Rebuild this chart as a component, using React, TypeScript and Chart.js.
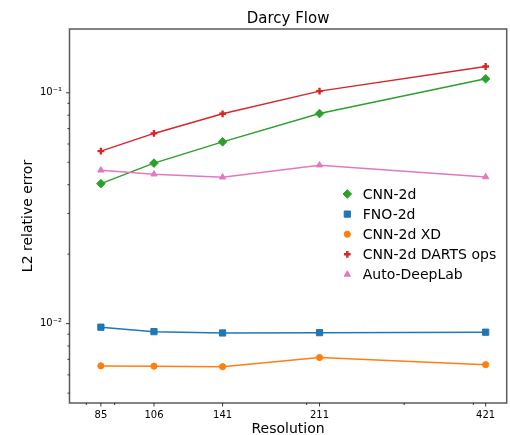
import React, { useEffect, useRef } from 'react';
import { Chart, registerables } from 'chart.js';
import { drawPoint } from 'chart.js/helpers';

Chart.register(...registerables);

// ---- data ----
const resolutions = [85, 106, 141, 211, 421];
const seriesNames = ['CNN-2d', 'FNO-2d', 'CNN-2d XD', 'CNN-2d DARTS ops', 'Auto-DeepLab'];
const cnn2d = [0.0404, 0.0496, 0.0613, 0.0813, 0.115];
const fno2d = [0.00965, 0.00923, 0.00911, 0.00914, 0.00918];
const cnn2dXD = [0.00656, 0.00654, 0.00651, 0.00713, 0.00664];
const cnn2dDarts = [0.0559, 0.0667, 0.0811, 0.1017, 0.13];
const autoDeepLab = [0.0462, 0.0444, 0.0431, 0.0486, 0.0432];
const xMinorTicks = [80, 90, 200, 300, 400];
const yMajorTicks = [0.01, 0.1];
const yMajorLabels = ['10\u207B\u00B2', '10\u207B\u00B9'];
const yMinorTicks = [0.005, 0.006, 0.007, 0.008, 0.009, 0.02, 0.03, 0.04, 0.05, 0.06, 0.07, 0.08, 0.09];

const FONT = 'DejaVu Sans';

const styles = [
  { color: '#2ca02c', pointStyle: 'rectRot', radius: 4.3, pbw: 1 },
  { color: '#1f77b4', pointStyle: 'rect', radius: 4.4, pbw: 1 },
  { color: '#ff7f0e', pointStyle: 'circle', radius: 3.1, pbw: 1 },
  { color: '#d62728', pointStyle: 'cross', radius: 3.4, pbw: 2.4 },
  { color: '#e377c2', pointStyle: 'triangle', radius: 3.6, pbw: 1 },
];

const allSeries = [cnn2d, fno2d, cnn2dXD, cnn2dDarts, autoDeepLab];

const frameTicks = {
  id: 'frameTicks',
  afterDraw(chart: any) {
    const { ctx, chartArea: a, scales } = chart;
    ctx.save();
    ctx.strokeStyle = '#5a5a5a';
    ctx.lineWidth = 1.5;
    ctx.strokeRect(a.left, a.top, a.right - a.left, a.bottom - a.top);
    ctx.strokeStyle = '#222';
    ctx.lineWidth = 0.9;
    for (const t of scales.x.ticks) {
      const px = scales.x.getPixelForValue(t.value);
      const len = t.label ? 3.5 : 2;
      ctx.beginPath();
      ctx.moveTo(px, a.bottom);
      ctx.lineTo(px, a.bottom + len);
      ctx.stroke();
    }
    for (const t of scales.y.ticks) {
      const py = scales.y.getPixelForValue(t.value);
      const len = t.label ? 3.5 : 2;
      ctx.beginPath();
      ctx.moveTo(a.left, py);
      ctx.lineTo(a.left - len, py);
      ctx.stroke();
    }
    ctx.restore();
  },
};

const innerLegend = {
  id: 'innerLegend',
  afterDraw(chart: any) {
    const { ctx } = chart;
    const x0 = 347.3;
    const y0 = 194;
    const step = 20.1;
    ctx.save();
    chart.data.datasets.forEach((ds: any, i: number) => {
      const y = y0 + i * step;
      ctx.fillStyle = ds.pointBackgroundColor;
      ctx.strokeStyle = ds.pointBorderColor;
      ctx.lineWidth = ds.pointBorderWidth;
      drawPoint(ctx, { pointStyle: ds.pointStyle, rotation: 0, radius: ds.pointRadius, borderWidth: ds.pointBorderWidth }, x0, y);
      ctx.fillStyle = '#000';
      ctx.font = `14px "${FONT}"`;
      ctx.textAlign = 'left';
      ctx.textBaseline = 'middle';
      ctx.fillText(ds.label, 362.7, y + 0.9);
    });
    ctx.restore();
  },
};

const zeroPad = (s: any) => {
  s.paddingLeft = 0;
  s.paddingRight = 0;
  s.paddingTop = 0;
  s.paddingBottom = 0;
};

export default function App() {
  const ref = useRef<HTMLCanvasElement>(null);
  useEffect(() => {
    if (!ref.current) return;
    const datasets = allSeries.map((vals, i) => ({
      label: seriesNames[i],
      data: resolutions.map((r, j) => ({ x: r, y: vals[j] })),
      borderColor: styles[i].color,
      backgroundColor: styles[i].color,
      pointBackgroundColor: styles[i].color,
      pointBorderColor: styles[i].color,
      pointBorderWidth: styles[i].pbw,
      pointStyle: styles[i].pointStyle,
      pointRadius: styles[i].radius,
      borderWidth: 1.5,
      tension: 0,
      fill: false,
      order: allSeries.length - i,
    }));
    const chart = new Chart(ref.current, {
      type: 'line',
      data: { datasets },
      options: {
        animation: false,
        responsive: false,
        events: [],
        layout: { autoPadding: false, padding: { top: 0, right: 3.3, bottom: 0, left: 0 } },
        plugins: {
          legend: { display: false },
          tooltip: { enabled: false },
          title: {
            display: true,
            fullSize: false,
            text: 'Darcy Flow',
            color: '#000',
            font: { family: FONT, size: 15, weight: 'normal', lineHeight: 1.2 },
            padding: { top: 10, bottom: 1 },
          },
        },
        scales: {
          x: {
            type: 'logarithmic',
            min: 74.6,
            max: 459.5,
            grid: { display: false, drawTicks: false },
            border: { display: false },
            afterBuildTicks: (s: any) => {
              s.ticks = [...resolutions, ...xMinorTicks].sort((a, b) => a - b).map((v) => ({ value: v }));
            },
            afterFit: (s: any) => {
              s.height = 32;
              zeroPad(s);
            },
            ticks: {
              autoSkip: false,
              maxRotation: 0,
              minRotation: 0,
              padding: 6.2,
              color: '#000',
              font: { family: FONT, size: 10 },
              callback: (v: any) => (resolutions.includes(Number(v)) ? String(v) : ''),
            },
            title: {
              display: true,
              text: 'Resolution',
              color: '#000',
              font: { family: FONT, size: 14, lineHeight: 0.8 },
              padding: { top: 0, bottom: 0 },
            },
          },
          y: {
            type: 'logarithmic',
            min: 0.00453,
            max: 0.189,
            grid: { display: false, drawTicks: false },
            border: { display: false },
            afterBuildTicks: (s: any) => {
              s.ticks = [...yMinorTicks, ...yMajorTicks].sort((a, b) => a - b).map((v) => ({ value: v }));
            },
            afterFit: (s: any) => {
              s.width = 69.5;
              zeroPad(s);
            },
            ticks: {
              autoSkip: false,
              padding: 7.5,
              color: '#000',
              font: { family: FONT, size: 10 },
              callback: (v: any) => {
                const k = yMajorTicks.findIndex((m) => Math.abs(m - Number(v)) < 1e-9);
                return k >= 0 ? yMajorLabels[k] : '';
              },
            },
            title: {
              display: true,
              text: 'L2 relative error',
              color: '#000',
              font: { family: FONT, size: 14, lineHeight: 1.2 },
              padding: { top: 20, bottom: 0 },
            },
          },
        },
      },
      plugins: [frameTicks, innerLegend],
    } as any);
    return () => chart.destroy();
  }, []);
  return (
    <div style={{ position: 'absolute', left: 0, top: 0, width: 510, height: 435, background: '#fff' }}>
      <canvas ref={ref} width={510} height={435} style={{ display: 'block' }} />
    </div>
  );
}
